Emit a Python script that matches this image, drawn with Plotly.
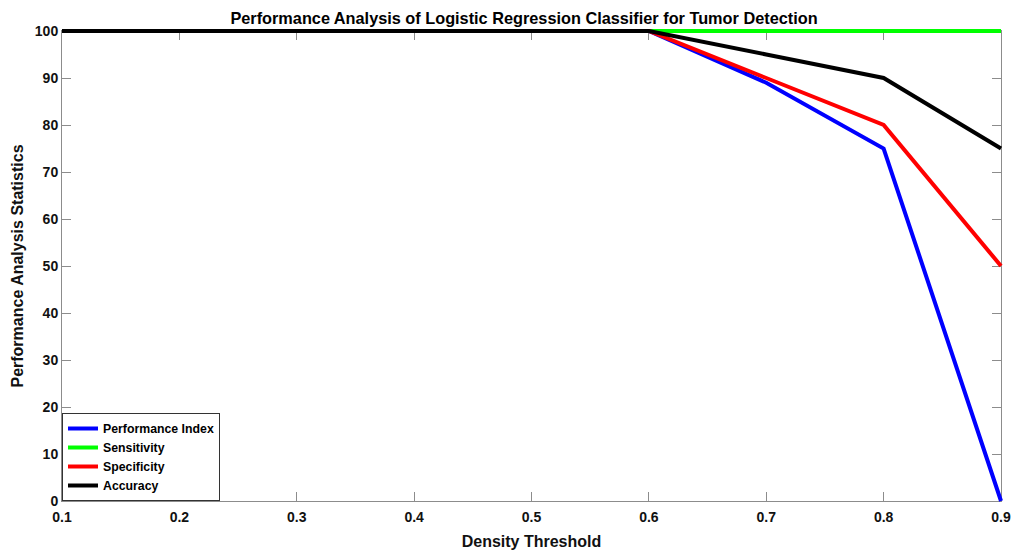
import plotly.graph_objects as go

density_threshold = [0.1, 0.2, 0.3, 0.4, 0.5, 0.6, 0.7, 0.8, 0.9]
performance_index = [100, 100, 100, 100, 100, 100, 89, 75, 0]
sensitivity = [100, 100, 100, 100, 100, 100, 100, 100, 100]
specificity = [100, 100, 100, 100, 100, 100, 90, 80, 50]
accuracy = [100, 100, 100, 100, 100, 100, 95, 90, 75]
y_ticks = [0, 10, 20, 30, 40, 50, 60, 70, 80, 90, 100]

series = [
    ("Performance Index", performance_index, "#0000FF"),
    ("Sensitivity", sensitivity, "#00FF00"),
    ("Specificity", specificity, "#FF0000"),
    ("Accuracy", accuracy, "#000000"),
]

FONT = "Arial, Liberation Sans, sans-serif"
W, H = 1013, 550
ML, MR, MT, MB = 58, 8, 27, 45
PAD = 4  # px of room so thick lines on the frame are not clipped
pw, ph = W - ML - MR, H - MT - MB
x_min, x_max = min(density_threshold), max(density_threshold)
y_min, y_max = min(y_ticks), max(y_ticks)
dx = PAD / (pw - 2 * PAD) * (x_max - x_min)
dy = PAD / (ph - 2 * PAD) * (y_max - y_min)

fig = go.Figure()
# frame subplot (visible axes)
fig.add_trace(go.Scatter(x=[None], y=[None], xaxis="x", yaxis="y",
                         showlegend=False, hoverinfo="skip"))
# data subplot (slightly larger so lines at the frame are drawn in full)
for name, vals, color in series:
    fig.add_trace(go.Scatter(
        x=density_threshold, y=vals, mode="lines", name=name,
        line=dict(color=color, width=4), xaxis="x2", yaxis="y2",
    ))

axis_common = dict(
    showgrid=False, zeroline=False, showline=True, linecolor="#8c8c8c", linewidth=1,
    ticks="inside", ticklen=9, tickcolor="#8c8c8c", tickwidth=1, mirror="ticks",
    automargin=False,
    tickfont=dict(family=FONT, size=14, color="#111111", weight="bold"),
)
hidden = dict(visible=False, showgrid=False, zeroline=False, automargin=False)

fig.update_layout(
    width=W, height=H,
    margin=dict(l=ML, r=MR, t=MT, b=MB),
    paper_bgcolor="white", plot_bgcolor="rgba(0,0,0,0)",
    title=dict(
        text="Performance Analysis of Logistic Regression Classifier for Tumor Detection",
        x=524 / W, xref="container", xanchor="center",
        y=1 - 18 / H, yref="container", yanchor="middle",
        font=dict(family=FONT, size=16.3, color="#000000", weight="bold"),
    ),
    xaxis=dict(
        domain=[PAD / pw, 1 - PAD / pw], anchor="y",
        range=[x_min, x_max], tickvals=density_threshold,
        ticktext=[str(v) for v in density_threshold],
        ticklabelstandoff=3,
        title=dict(text="Density Threshold", standoff=13,
                   font=dict(family=FONT, size=16, color="#111111", weight="bold")),
        **axis_common,
    ),
    yaxis=dict(
        domain=[PAD / ph, 1 - PAD / ph], anchor="x",
        range=[y_min, y_max], tickvals=y_ticks,
        title=dict(text="Performance Analysis Statistics", standoff=7,
                   font=dict(family=FONT, size=16, color="#111111", weight="bold")),
        **axis_common,
    ),
    xaxis2=dict(domain=[0, 1], anchor="y2", range=[x_min - dx, x_max + dx], **hidden),
    yaxis2=dict(domain=[0, 1], anchor="x2", range=[y_min - dy, y_max + dy], **hidden),
    legend=dict(
        x=PAD / pw, y=PAD / ph, xanchor="left", yanchor="bottom",
        bgcolor="white", bordercolor="#333333", borderwidth=1,
        font=dict(family=FONT, size=12.3, color="#000000", weight="bold"),
        tracegroupgap=0, itemwidth=30,
    ),
    showlegend=True,
)

fig.write_html("out.html")
